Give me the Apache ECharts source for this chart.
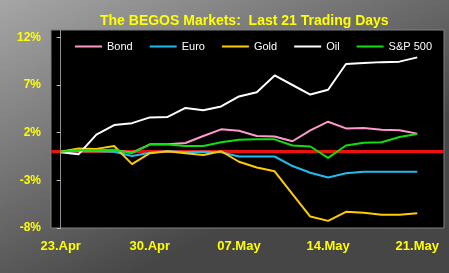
<!DOCTYPE html>
<html>
<head>
<meta charset="utf-8">
<script src="https://cdn.jsdelivr.net/npm/echarts@6/dist/echarts.min.js"></script>
<style>
html,body{margin:0;padding:0;background:#777;}
#c{width:449px;height:273px;}
</style>
</head>
<body>
<div id="c"></div>
<script>
var dates = ['23.Apr','24.Apr','25.Apr','26.Apr','27.Apr','30.Apr','01.May','02.May','03.May','04.May','07.May','08.May','09.May','10.May','11.May','14.May','15.May','16.May','17.May','18.May','21.May'];
var bond = [0, 0.12, 0.12, 0.18, -0.1, 0.78, 0.78, 0.92, 1.65, 2.35, 2.2, 1.65, 1.6, 1.1, 2.25, 3.15, 2.45, 2.5, 2.3, 2.25, 1.9];
var euro = [0, 0.05, 0.05, 0.0, -0.45, -0.1, 0.05, -0.03, 0.0, -0.05, -0.5, -0.5, -0.5, -1.5, -2.2, -2.7, -2.25, -2.1, -2.1, -2.1, -2.1];
var gold = [0, 0.35, 0.3, 0.6, -1.3, -0.15, 0.05, -0.15, -0.35, 0.05, -1.05, -1.65, -2.05, -4.45, -6.8, -7.25, -6.3, -6.4, -6.6, -6.6, -6.45];
var oil = [-0.05, -0.27, 1.8, 2.8, 3.0, 3.6, 3.65, 4.6, 4.35, 4.75, 5.8, 6.25, 8.0, 7.0, 6.0, 6.5, 9.2, 9.3, 9.4, 9.45, 9.9];
var sp500 = [0, 0.15, 0.15, 0.2, -0.15, 0.75, 0.75, 0.6, 0.6, 1.0, 1.25, 1.3, 1.3, 0.65, 0.55, -0.65, 0.65, 0.95, 1.0, 1.55, 1.85];
var xTickIdx = [0, 5, 10, 15, 20];
var yTicks = [-8, -3, 2, 7, 12];
var names = ['Bond', 'Euro', 'Gold', 'Oil', 'S&P 500'];
var colors = ['#ff99cc', '#22bbee', '#ffcc00', '#ffffff', '#11dd11'];
var values = [bond, euro, gold, oil, sp500];

function pairs(arr){ return arr.map(function(v,i){ return [i, v]; }); }

var FONT = 'Liberation Sans, Arial, sans-serif';
var chart = echarts.init(document.getElementById('c'), null, {renderer:'canvas'});
var series = names.map(function(n, k){
  return {
    name: n, type: 'line', data: pairs(values[k]), symbol: 'none',
    lineStyle: {color: colors[k], width: 2}, itemStyle: {color: colors[k]},
    z: 3, animation: false
  };
});
series[0].markLine = {
  silent: true, symbol: 'none', z: 1, animation: false,
  label: {show: false},
  lineStyle: {color: '#ee1111', width: 3, type: 'solid'},
  data: [{yAxis: 0}]
};
chart.setOption({
  animation: false,
  backgroundColor: new echarts.graphic.LinearGradient(0, 0, 0.3, 1, [
    {offset: 0, color: '#a6a6a6'}, {offset: 1, color: '#464646'}
  ]),
  title: {
    text: 'The BEGOS Markets:  Last 21 Trading Days',
    left: 95, top: 9,
    textStyle: {color: '#ffff00', fontSize: 14, fontWeight: 'bold', fontFamily: FONT}
  },
  legend: {
    data: names, left: 70, top: 36, icon: 'rect', itemWidth: 27, itemHeight: 2, itemGap: 17,
    textStyle: {color: '#ffffff', fontSize: 11, fontFamily: FONT}
  },
  grid: {
    left: 51, right: 5, top: 30, bottom: 45, show: true,
    backgroundColor: '#000000', borderColor: '#808080', borderWidth: 1
  },
  xAxis: {
    type: 'value', min: -0.544, max: 21.5,
    axisLine: {show: false}, splitLine: {show: false},
    axisTick: {show: false},
    axisLabel: {
      customValues: xTickIdx,
      formatter: function(v){ return dates[Math.round(v)]; },
      color: '#ffff00', fontSize: 13, fontWeight: 'bold', fontFamily: FONT, margin: 12
    }
  },
  yAxis: {
    type: 'value', min: -8, max: 12.77,
    axisLine: {show: true, lineStyle: {color: '#909090', width: 1}},
    splitLine: {show: false},
    axisTick: {show: true, customValues: yTicks, length: 4, inside: false, lineStyle: {color: '#c0c0c0'}},
    axisLabel: {
      customValues: yTicks,
      formatter: function(v){ return v + '%'; },
      color: '#ffff00', fontSize: 12, fontWeight: 'bold', fontFamily: FONT, margin: 10
    }
  },
  series: series
});
</script>
</body>
</html>
